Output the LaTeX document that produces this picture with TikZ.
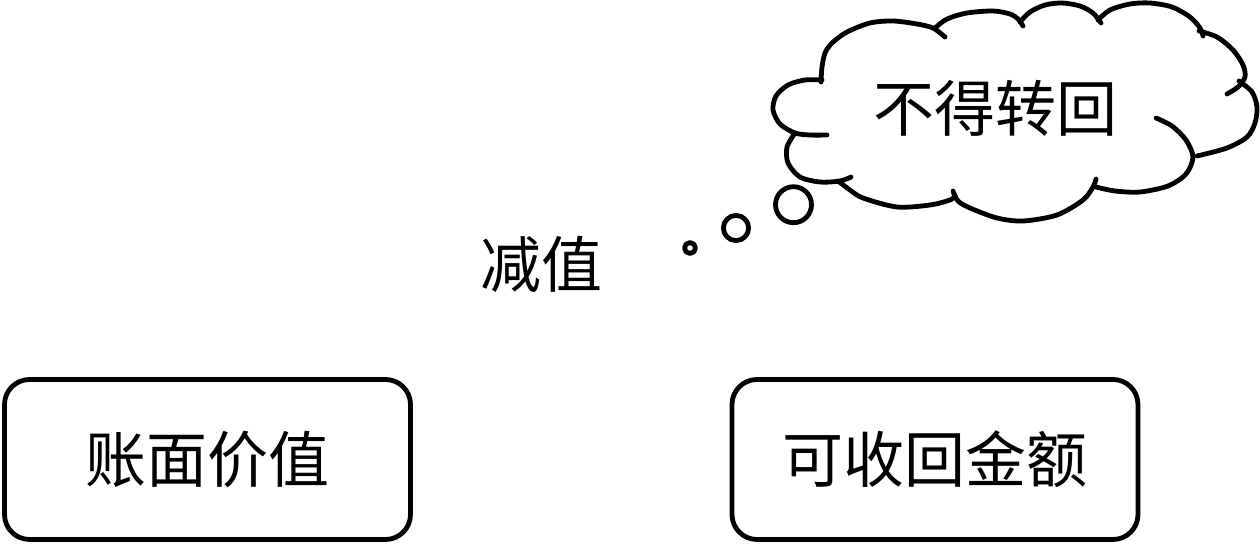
\documentclass[tikz,border=0pt]{standalone}
\usepackage{fontspec}
\newfontfamily\cjkfont{Noto Sans CJK SC}
\usetikzlibrary{positioning}

\begin{document}
\begin{tikzpicture}[x=0.5pt, y=0.5pt]
    \tikzstyle{every node} = [font=\cjkfont\fontsize{30.5pt}{36pt}\selectfont]
    \tikzstyle{valuebox} = [draw, rectangle, rounded corners=12.5pt, line width=2.4pt, minimum width=203pt, minimum height=80pt]
    \tikzstyle{cloudline} = [line width=2.4pt, line cap=round, line join=round]

    \useasboundingbox (0,0) rectangle (1260,-546);

    \node (book) [valuebox] at (207.5,-459.5) {账面价值};
    \node (recover) [valuebox, right of=book, node distance=363.75pt] {可收回金额};
    \node (impair) at (541,-264) {减值};
    \node (noreturn) at (995.5,-108) {不得转回};

    % thought cloud
    \draw [cloudline] plot [smooth] coordinates {(821,-82) (822,-67) (825,-53) (832,-43) (847,-32) (870,-23) (893,-21) (917,-24) (933,-28) (945,-37)};
    \draw [cloudline] plot [smooth] coordinates {(935,-28) (947,-19) (967,-13) (993,-11) (1010,-14) (1018,-19) (1023,-26)};
    \draw [cloudline] plot [smooth] coordinates {(1020,-22) (1030,-12) (1045,-5) (1062,-3) (1080,-6) (1093,-13) (1101,-23)};
    \draw [cloudline] plot [smooth] coordinates {(1098,-20) (1110,-10) (1130,-4) (1150,-3) (1172,-7) (1190,-17) (1200,-28) (1203,-36)};
    \draw [cloudline] plot [smooth] coordinates {(1199,-31) (1217,-37) (1233,-50) (1243,-65) (1245,-77) (1238,-87) (1227,-94)};
    \draw [cloudline] plot [smooth] coordinates {(1239,-81) (1252,-92) (1257,-107) (1255,-123) (1247,-137) (1227,-148) (1197,-156)};
    \draw [cloudline] plot [smooth] coordinates {(1156,-118) (1172,-126) (1186,-140) (1193,-157) (1186,-174) (1168,-186) (1140,-192) (1115,-191) (1096,-187)};
    \draw [cloudline] plot [smooth] coordinates {(953,-191) (958,-201) (970,-208) (997,-218) (1023,-221) (1057,-215) (1083,-200) (1093,-187) (1096,-179)};
    \draw [cloudline] plot [smooth] coordinates {(838,-181) (850,-190) (863,-198) (897,-207) (930,-205) (950,-200) (955,-196)};
    \draw [cloudline] plot [smooth] coordinates {(795,-133) (787,-147) (788,-163) (800,-177) (820,-182) (840,-181) (851,-177)};
    \draw [cloudline] plot [smooth] coordinates {(827,-135) (810,-135) (795,-133) (780,-124) (773,-110) (776,-96) (788,-85) (805,-80) (822,-80)};

    \draw [cloudline] (793.5,-204.7) circle (18);
    \draw [cloudline] (736,-228) circle (12.6);
    \draw [cloudline] (690,-248) circle (5.5);
\end{tikzpicture}
\end{document}
